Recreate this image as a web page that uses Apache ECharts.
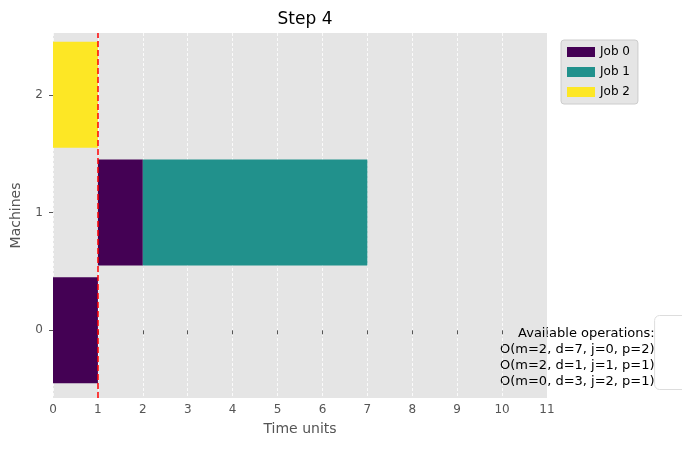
<!DOCTYPE html>
<html><head><meta charset="utf-8">
<script src="https://cdn.jsdelivr.net/npm/echarts@6/dist/echarts.min.js"></script>
<style>body{margin:0}#main{width:682px;height:460px}</style>
</head><body><div id="main"></div>
<script>
// 数据
var jobs = ['Job 0', 'Job 1', 'Job 2'];
var jobColors = ['#440154', '#21918c', '#fde725'];
var opMachine = [0, 1, 1, 2];
var opStart = [0, 1, 2, 0];
var opDuration = [1, 1, 5, 1];
var opJob = [0, 0, 1, 2];
var currentTime = 1;
var availableOps = ['Available operations:', 'O(m=2, d=7, j=0, p=2)', 'O(m=2, d=1, j=1, p=1)', 'O(m=0, d=3, j=2, p=1)'];

var myChart = echarts.init(document.getElementById('main'));
var font = 'DejaVu Sans';

function renderBar(params, api) {
    var s = api.coord([api.value(1), api.value(0)]);
    var e = api.coord([api.value(2), api.value(0)]);
    var h = api.size([0, 0.9])[1];
    return {
        type: 'rect',
        shape: {x: s[0], y: s[1] - h / 2, width: e[0] - s[0], height: h},
        style: {fill: api.visual('color')}
    };
}

var series = jobs.map(function (name, j) {
    var data = [];
    for (var i = 0; i < opJob.length; i++) {
        if (opJob[i] === j) data.push([opMachine[i], opStart[i], opStart[i] + opDuration[i]]);
    }
    return {
        name: name, type: 'custom', renderItem: renderBar,
        itemStyle: {color: jobColors[j]},
        encode: {x: [1, 2], y: 0}, data: data
    };
});
series.push({
    type: 'line', data: [], silent: true,
    markLine: {
        symbol: 'none', silent: true, label: {show: false},
        lineStyle: {color: '#ff0000', type: [6, 3], width: 1.5},
        data: [{xAxis: currentTime}]
    }
});

var option = {
    textStyle: {fontFamily: font},
    title: {text: 'Step 4', left: 300, top: 6, textAlign: 'center',
        textStyle: {fontSize: 17, fontWeight: 'normal', color: '#000', fontFamily: font}},
    legend: {
        data: jobs, orient: 'vertical', left: 561, top: 40,
        itemWidth: 28, itemHeight: 10, itemGap: 8, icon: 'rect',
        backgroundColor: '#e5e5e5', borderColor: '#cccccc', borderWidth: 1, borderRadius: 3,
        padding: [6, 8, 6, 6],
        textStyle: {fontSize: 12, color: '#000', fontFamily: font}
    },
    grid: {left: 53, right: 135, top: 33, bottom: 62, backgroundColor: '#e5e5e5', show: true, borderWidth: 0},
    xAxis: {
        type: 'value', min: 0, max: 11, interval: 1,
        name: 'Time units', nameLocation: 'middle', nameGap: 24,
        nameTextStyle: {fontSize: 14, color: '#555', fontFamily: font},
        axisLine: {show: false},
        axisTick: {show: true, length: 4, lineStyle: {color: '#555'}},
        axisLabel: {color: '#555', fontSize: 12, margin: 6},
        splitLine: {lineStyle: {color: '#ffffff', type: [3, 2], width: 0.8}}
    },
    yAxis: {
        type: 'value', min: -0.575, max: 2.525,
        name: 'Machines', nameLocation: 'middle', nameGap: 30,
        nameTextStyle: {fontSize: 14, color: '#555', fontFamily: font},
        axisLine: {show: false},
        axisTick: {show: true, length: 4, customValues: [0, 1, 2], lineStyle: {color: '#555'}},
        axisLabel: {color: '#555', fontSize: 12, customValues: [0, 1, 2], margin: 10},
        splitLine: {show: false}
    },
    graphic: [{
        type: 'group', left: 500, top: 315,
        children: [{
            type: 'rect', shape: {x: 0, y: 0, width: 178, height: 74, r: 5},
            style: {fill: 'rgba(255,255,255,0.85)', stroke: '#dddddd'}
        }, {
            type: 'text', left: 'right', x: 172, y: 5,
            style: {text: availableOps.join('\n'), align: 'right', fontSize: 13, lineHeight: 16,
                fill: '#000', fontFamily: font, x: 172, y: 5}
        }]
    }],
    series: series
};
myChart.setOption(option);
</script></body></html>
